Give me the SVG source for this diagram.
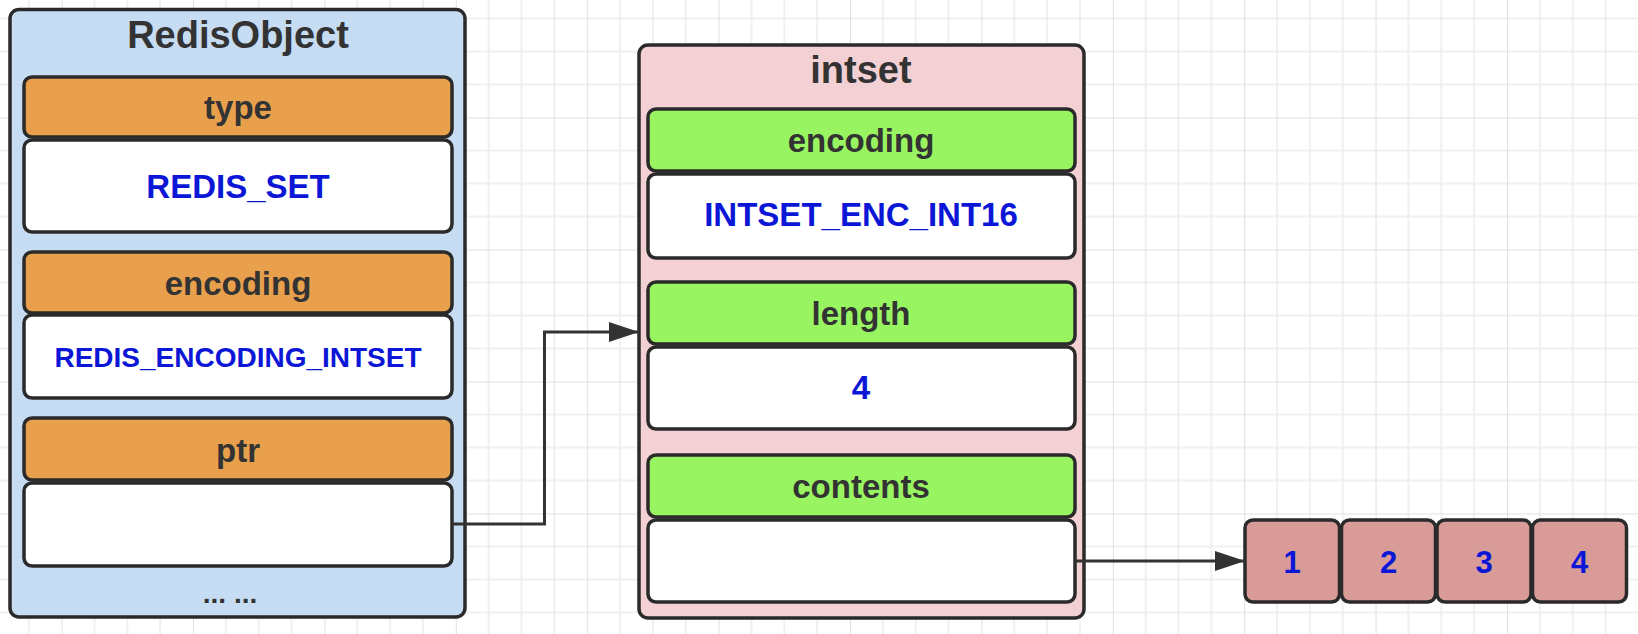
<svg xmlns="http://www.w3.org/2000/svg" width="1638" height="634" viewBox="0 0 1638 634">
  <style>
    .lbl { font-family: "Liberation Sans", Arial, sans-serif; font-weight: bold; fill: #333333; text-anchor: middle; }
    .val { font-family: "Liberation Sans", Arial, sans-serif; font-weight: bold; fill: #0b16d6; text-anchor: middle; }
    .box { stroke: #2a2a2a; stroke-width: 3.5; }
    .outerBlue { fill: #c5dcf3; }
    .outerPink { fill: #f2d0d3; }
    .orange { fill: #e8a04d; }
    .green { fill: #98f561; }
    .white { fill: #ffffff; }
    .cell { fill: #d89b98; }
    .conn { fill: none; stroke: #333333; stroke-width: 3; }
  </style>
  <defs>
    <pattern id="gridPat" patternUnits="userSpaceOnUse" x="61.6" y="-14.5" width="131.4" height="132">
      <path d="M32.85 0V132M65.7 0V132M98.55 0V132M0 33H131.4M0 66H131.4M0 99H131.4" stroke="#ececec" stroke-width="1.5" fill="none"/>
      <path d="M0 0V132M0 0H131.4" stroke="#e0e0e0" stroke-width="2" fill="none"/>
    </pattern>
    <marker id="arrow" markerUnits="userSpaceOnUse" markerWidth="32" markerHeight="22" refX="30" refY="10" orient="auto">
      <path d="M0 0L30 10L0 20Z" fill="#333333"/>
    </marker>
  </defs>

  <rect x="0" y="0" width="1638" height="634" fill="#ffffff"/>
  <rect x="0" y="0" width="1638" height="634" fill="url(#gridPat)"/>

  <g id="redisobject">
    <rect class="box outerBlue" x="10" y="9.5" width="455" height="607.5" rx="9"/>
    <text class="lbl" x="238" y="48" font-size="38">RedisObject</text>
  </g>
  <g id="ro-type">
    <rect class="box orange" x="24" y="77" width="428" height="60" rx="8"/>
    <text class="lbl" x="238" y="119" font-size="33">type</text>
  </g>
  <g id="ro-type-val">
    <rect class="box white" x="24" y="140" width="428" height="92" rx="8"/>
    <text class="val" x="238" y="198" font-size="33">REDIS_SET</text>
  </g>
  <g id="ro-encoding">
    <rect class="box orange" x="24" y="252" width="428" height="61" rx="8"/>
    <text class="lbl" x="238" y="295" font-size="33">encoding</text>
  </g>
  <g id="ro-encoding-val">
    <rect class="box white" x="24" y="315" width="428" height="83" rx="8"/>
    <text class="val" x="238" y="367" font-size="28">REDIS_ENCODING_INTSET</text>
  </g>
  <g id="ro-ptr">
    <rect class="box orange" x="24" y="418" width="428" height="62" rx="8"/>
    <text class="lbl" x="238" y="462" font-size="33">ptr</text>
  </g>
  <g id="ro-ptr-val">
    <rect class="box white" x="24" y="483" width="428" height="83" rx="8"/>
  </g>
  <g id="ro-more">
    <text class="lbl" x="230" y="603" font-size="28">... ...</text>
  </g>

  <g id="intset">
    <rect class="box outerPink" x="639" y="45" width="445" height="573" rx="9"/>
    <text class="lbl" x="861" y="83" font-size="38">intset</text>
  </g>
  <g id="is-encoding">
    <rect class="box green" x="648" y="109" width="427" height="62" rx="8"/>
    <text class="lbl" x="861" y="152" font-size="33">encoding</text>
  </g>
  <g id="is-encoding-val">
    <rect class="box white" x="648" y="174" width="427" height="84" rx="8"/>
    <text class="val" x="861" y="226" font-size="33">INTSET_ENC_INT16</text>
  </g>
  <g id="is-length">
    <rect class="box green" x="648" y="282" width="427" height="62" rx="8"/>
    <text class="lbl" x="861" y="325" font-size="33">length</text>
  </g>
  <g id="is-length-val">
    <rect class="box white" x="648" y="347" width="427" height="82" rx="8"/>
    <text class="val" x="861" y="399" font-size="33">4</text>
  </g>
  <g id="is-contents">
    <rect class="box green" x="648" y="455" width="427" height="62" rx="8"/>
    <text class="lbl" x="861" y="498" font-size="33">contents</text>
  </g>
  <g id="is-contents-val">
    <rect class="box white" x="648" y="520" width="427" height="82" rx="8"/>
  </g>

  <g id="cell-1">
    <rect class="box cell" x="1245" y="520" width="94.5" height="82" rx="8"/>
    <text class="val" x="1292" y="573" font-size="31">1</text>
  </g>
  <g id="cell-2">
    <rect class="box cell" x="1341.5" y="520" width="94" height="82" rx="8"/>
    <text class="val" x="1388.5" y="573" font-size="31">2</text>
  </g>
  <g id="cell-3">
    <rect class="box cell" x="1437" y="520" width="94" height="82" rx="8"/>
    <text class="val" x="1484" y="573" font-size="31">3</text>
  </g>
  <g id="cell-4">
    <rect class="box cell" x="1532.5" y="520" width="94" height="82" rx="8"/>
    <text class="val" x="1579.5" y="573" font-size="31">4</text>
  </g>

  <g id="connectors">
    <path class="conn" d="M452 524H544.5V332H639" marker-end="url(#arrow)"/>
    <path class="conn" d="M1075 561H1245" marker-end="url(#arrow)"/>
  </g>
</svg>
